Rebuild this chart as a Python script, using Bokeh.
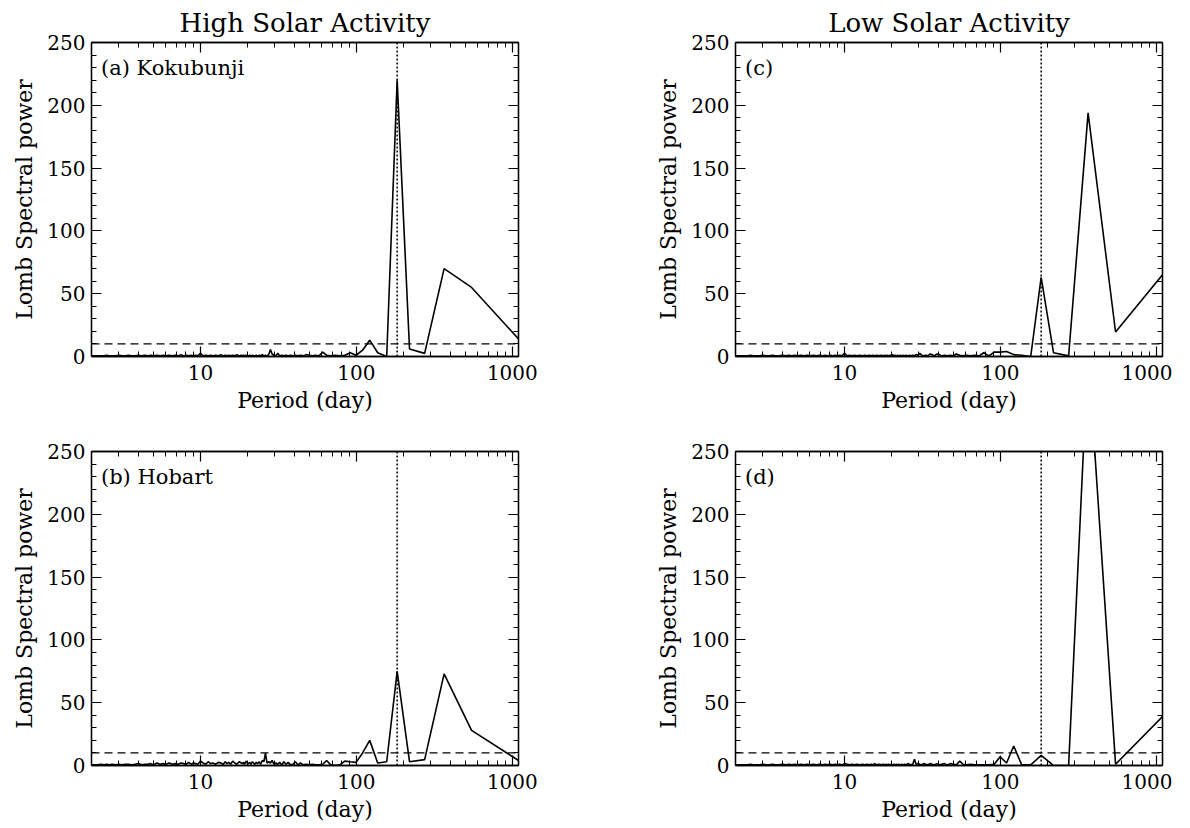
from bokeh.plotting import figure
from bokeh.models import (LinearAxis, LogAxis, Range1d, FixedTicker, Span, Label,
                          NumeralTickFormatter)
from bokeh.layouts import column, row
from bokeh.embed import file_html
from bokeh.resources import INLINE

FONT = "DejaVu Serif"

# ---------------- data ----------------
period = [1095, 547.5, 365, 273.8, 219, 182.5, 156.4, 136.9, 121.7, 109.5,
          99.5, 91.3, 84.2, 78.2, 73.0, 68.4, 64.4, 60.8, 57.6, 54.8,
          52.1, 49.8, 47.6, 45.6, 43.8, 42.1, 40.6, 39.1, 37.8, 36.5,
          35.3, 34.2, 33.2, 32.2, 31.3, 30.4, 29.6, 28.8, 28.1, 27.4,
          26.7, 26.1, 25.5, 24.9, 24.3, 23.8, 23.3, 22.8, 22.3, 21.9,
          21.5, 21.1, 20.7, 20.3, 19.9, 19.6, 19.2, 18.9, 18.6, 18.3,
          17.7, 17.1, 16.6, 16.1, 15.6, 15.2, 14.8, 14.4, 14.0, 13.5,
          13.0, 12.5, 12.0, 11.6, 11.2, 10.8, 10.4, 10.0, 9.6, 9.3,
          9.0, 8.7, 8.4, 8.1, 7.8, 7.5, 7.2, 6.9, 6.6, 6.3,
          6.0, 5.75, 5.5, 5.25, 5.0, 4.8, 4.6, 4.4, 4.2, 4.0,
          3.8, 3.6, 3.45, 3.3, 3.15, 3.0, 2.85, 2.7, 2.6, 2.5,
          2.4, 2.3, 2.2, 2.1, 2.0]

power_a = [14, 55, 70, 2.5, 6, 220, 0, 3, 13, 5,
           1, 3, 1, 0.5, 1, 0.5, 1, 3.5, 0.5, 1,
           0.5, 1, 1.5, 0.5, 1, 0.5, 1, 0.5, 1, 0.5,
           1, 0.5, 1, 0.5, 2.5, 0.5, 1, 2, 5.5, 1.5,
           0.5, 1, 0.5, 1.5, 0.5, 1, 0.5, 1, 0.5, 0.5,
           1, 0.5, 1, 0.5, 0.5, 1, 0.5, 1, 0.5, 1,
           0.5, 1.5, 0.5, 1, 0.5, 1, 0.5, 1, 0.5, 1.5,
           0.5, 1, 0.5, 1, 0.5, 1, 0.5, 2.5, 0.5, 1,
           0.5, 1, 0.5, 1, 0.5, 1.5, 0.5, 1, 0.5, 1,
           0.5, 1, 0.5, 1, 0.5, 1, 0.5, 1, 0.5, 1,
           0.5, 0.5, 1, 0.5, 0.5, 1, 0.5, 0.5, 0.5, 1,
           0.5, 0.5, 0.5, 0.5, 0.5]

power_b = [4, 28, 73, 4.7, 3, 75, 3, 2, 20, 10,
           2.5, 3, 3.5, 0.5, 0, 0.5, 4, 1, 0.5, 0.5,
           1, 0.5, 1, 0.5, 2, 0.5, 3, 1, 0.5, 2.5,
           1, 3, 0.5, 2.5, 1, 2, 1, 4, 2, 3,
           2, 9.8, 3, 4, 1, 3, 1.5, 2.5, 1, 2,
           3, 1, 2.5, 1.5, 2, 3.5, 1, 2.5, 1.5, 2,
           3, 1, 2, 3.5, 1, 2.5, 1.5, 3, 1, 2,
           2.5, 1, 2, 1.5, 3, 1, 2, 3.5, 1, 1.5,
           2, 1, 2.5, 1, 1.5, 2, 1, 1.5, 1, 2,
           1, 1.5, 1, 2, 0.5, 1.5, 1, 1, 0.5, 1.5,
           1, 0.5, 1, 1, 0.5, 1, 0.5, 1, 0.5, 1,
           0.5, 1, 0.5, 0.5, 0.5]

power_c = [65, 19.5, 194, 0.5, 3, 63, 0, 1, 1.5, 4,
           3.5, 3.5, 0.5, 3, 0.5, 1, 0.5, 1, 0.5, 1,
           2, 0.5, 1, 0.5, 1, 0.5, 1.5, 2, 0.5, 1.5,
           2, 0.5, 1, 0.5, 1, 2.5, 1, 1.5, 0.5, 1,
           0.5, 1, 0.5, 1, 0.5, 1, 0.5, 1, 0.5, 1,
           0.5, 1, 0.5, 1.5, 0.5, 1, 0.5, 1, 0.5, 1,
           0.5, 1, 0.5, 1, 0.5, 1, 0.5, 1, 0.5, 1,
           0.5, 1, 0.5, 1, 0.5, 1, 0.5, 2.5, 0.5, 1,
           0.5, 1, 0.5, 1, 0.5, 1, 0.5, 1, 0.5, 1,
           0.5, 1, 0.5, 1, 0.5, 1, 0.5, 1, 0.5, 1,
           0.5, 0.5, 1, 0.5, 0.5, 1, 0.5, 0.5, 0.5, 1,
           0.5, 0.5, 0.5, 0.5, 0.5]

power_d = [39, 1, 330, 0, 0, 8, 0.5, 0.5, 15.5, 2,
           7, 1, 0.5, 0.5, 0.5, 0.5, 1, 0.5, 1, 3.5,
           0.5, 1, 1.5, 0.5, 1.5, 1, 0.5, 1.5, 0.5, 1,
           1.5, 0.5, 1, 1.5, 0.5, 1, 1.5, 1, 5, 1,
           0.5, 1, 1.5, 0.5, 1, 0.5, 1, 0.5, 1, 0.5,
           1, 0.5, 1, 0.5, 1, 0.5, 1, 0.5, 1, 0.5,
           1, 0.5, 1, 0.5, 1.5, 0.5, 1, 0.5, 1, 0.5,
           1, 0.5, 1, 0.5, 1, 0.5, 1, 1.5, 0.5, 1,
           0.5, 1, 0.5, 1, 0.5, 1, 0.5, 1, 0.5, 1,
           0.5, 1, 0.5, 1, 0.5, 1, 0.5, 1, 0.5, 1,
           0.5, 0.5, 1, 0.5, 0.5, 1, 0.5, 0.5, 0.5, 1,
           0.5, 0.5, 0.5, 0.5, 0.5]

half_year = 182.5
significance = 10

panel_labels = ["(a) Kokubunji", "(b) Hobart", "(c)", "(d)"]
column_titles = ["High Solar Activity", "Low Solar Activity"]

x_major = [10, 100, 1000]
x_minor = [2, 3, 4, 5, 6, 7, 8, 9, 20, 30, 40, 50, 60, 70, 80, 90,
           200, 300, 400, 500, 600, 700, 800, 900]
y_major = [0, 50, 100, 150, 200, 250]
y_minor = [10, 20, 30, 40, 60, 70, 80, 90, 110, 120, 130, 140,
           160, 170, 180, 190, 210, 220, 230, 240]


def style_axis(ax, show_labels):
    ax.major_tick_in = 10
    ax.major_tick_out = 0
    ax.minor_tick_in = 5
    ax.minor_tick_out = 0
    ax.axis_line_color = "black"
    ax.axis_line_width = 1.3
    ax.major_tick_line_color = "black"
    ax.minor_tick_line_color = "black"
    ax.major_tick_line_width = 1.2
    ax.minor_tick_line_width = 1.0
    if show_labels:
        ax.major_label_text_font = FONT
        ax.major_label_text_font_size = "20px"
        ax.major_label_text_color = "black"
        ax.axis_label_text_font = FONT
        ax.axis_label_text_font_size = "22px"
        ax.axis_label_text_font_style = "normal"
        ax.axis_label_text_color = "black"
    else:
        ax.major_label_text_font_size = "1px"
        ax.major_label_text_color = None
        ax.major_label_standoff = 0


def make_panel(power, label_text, title_text, width, height, bl, br, bt, bb):
    p = figure(width=width, height=height, x_axis_type="log",
               x_range=Range1d(2, 1095), y_range=Range1d(0, 250),
               output_backend="svg", toolbar_location=None,
               min_border_left=bl, min_border_right=br,
               min_border_top=bt, min_border_bottom=bb,
               x_axis_label="Period (day)", y_axis_label="Lomb Spectral power")
    p.grid.visible = False
    p.outline_line_color = "black"
    p.outline_line_width = 1.3
    p.background_fill_color = "white"
    p.border_fill_color = "white"

    xa = p.xaxis[0]
    xa.ticker = FixedTicker(ticks=x_major, minor_ticks=x_minor)
    xa.formatter = NumeralTickFormatter(format="0")
    xa.major_label_standoff = 8
    xa.axis_label_standoff = 5
    style_axis(xa, True)

    ya = p.yaxis[0]
    ya.ticker = FixedTicker(ticks=y_major, minor_ticks=y_minor)
    ya.major_label_standoff = 6
    ya.axis_label_standoff = 7
    ya.major_label_orientation = "horizontal"
    style_axis(ya, True)

    top = LogAxis(ticker=FixedTicker(ticks=x_major, minor_ticks=x_minor))
    style_axis(top, False)
    p.add_layout(top, "above")
    right = LinearAxis(ticker=FixedTicker(ticks=y_major, minor_ticks=y_minor))
    style_axis(right, False)
    p.add_layout(right, "right")

    if title_text:
        p.title.text = title_text
        p.title.align = "center"
        p.title.text_font = FONT
        p.title.text_font_size = "26px"
        p.title.text_font_style = "normal"
        p.title.text_color = "black"
        p.title.standoff = 10

    p.add_layout(Span(location=half_year, dimension="height", line_color="black",
                      line_dash="2 2", line_width=1.5))
    p.add_layout(Span(location=significance, dimension="width", line_color="black",
                      line_dash="8 5", line_width=1.2))

    p.line(period, power, line_color="black", line_width=1.6)

    p.add_layout(Label(x=2.3, y=230, text=label_text, text_font=FONT,
                       text_font_size="21px", text_baseline="middle",
                       text_align="left", text_color="black"))
    return p


pa = make_panel(power_a, panel_labels[0], column_titles[0], 644, 431, 91, 126, 42, 75)
pc = make_panel(power_c, panel_labels[2], column_titles[1], 528, 431, 91, 10, 42, 75)
pb = make_panel(power_b, panel_labels[1], None, 644, 394, 91, 126, 20, 60)
pd = make_panel(power_d, panel_labels[3], None, 528, 394, 91, 10, 20, 60)

layout = column(row(pa, pc, spacing=0), row(pb, pd, spacing=0), spacing=0)

open("out.html", "w").write(file_html(layout, INLINE))
